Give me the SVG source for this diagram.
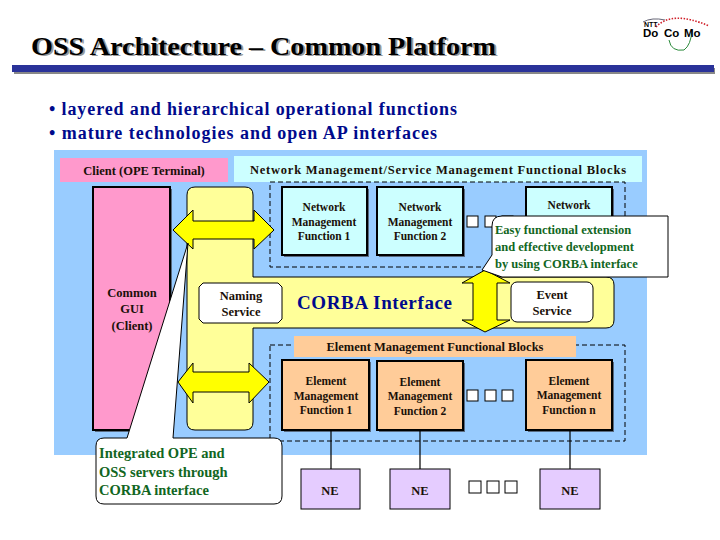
<svg xmlns="http://www.w3.org/2000/svg" width="720" height="540" viewBox="0 0 720 540">
<defs>
<style>
text{font-family:"Liberation Serif","Times New Roman",serif;font-weight:bold}
.m{text-anchor:middle}
.s{font-size:11.5px;fill:#1a1008}
.h{font-size:12.5px;fill:#1a1008}
.g{font-size:14.5px;fill:#116622}
.bx{stroke:#000;stroke-width:2}
.shad{fill:#444a55;opacity:.75}
.thin{fill:none;stroke:#000;stroke-width:1.2}
.dash{fill:none;stroke:#000;stroke-width:1;stroke-dasharray:5 3}
.sq{fill:#fff;stroke:#000;stroke-width:1}
.arrow{fill:#ffff00;stroke:#000;stroke-width:1}
.call{fill:#fff;stroke:#000;stroke-width:1}
</style>
</defs>
<rect width="720" height="540" fill="#fff"/>
<g id="header">
<text x="33" y="56" font-size="25.5" fill="#999" textLength="465" lengthAdjust="spacingAndGlyphs">OSS Architecture – Common Platform</text>
<text x="31" y="55" font-size="25.5" fill="#000" textLength="465" lengthAdjust="spacingAndGlyphs">OSS Architecture – Common Platform</text>
<rect x="14" y="68" width="701" height="6" fill="#888"/>
<rect x="12" y="65" width="702" height="7" fill="#2a3299"/>
<text x="49" y="115" font-size="18" fill="#000a8c" textLength="408" lengthAdjust="spacing">• layered and hierarchical operational functions</text>
<text x="49" y="139" font-size="18" fill="#000a8c" textLength="388" lengthAdjust="spacing">• mature technologies and open AP interfaces</text>
</g>
<g id="logo">
<path d="M643 22Q652 17 665 20" fill="none" stroke="#667" stroke-width="1"/>
<path d="M656 27Q672 10 709 26" fill="none" stroke="#d0202a" stroke-width="1.6" stroke-dasharray="1.5 1.5"/>
<path d="M669 40Q671 52 684 50Q691 45 692 30" fill="none" stroke="#2a8a3a" stroke-width="1"/>
<text x="644" y="27" font-size="7" style="font-family:'Liberation Sans',sans-serif">NTT</text>
<text x="643" y="37" font-size="11.5" style="font-family:'Liberation Sans',sans-serif">Do</text>
<text x="664" y="37" font-size="11.5" style="font-family:'Liberation Sans',sans-serif">Co</text>
<text x="684" y="37" font-size="11.5" style="font-family:'Liberation Sans',sans-serif">Mo</text>
</g>
<rect id="panel" x="54" y="150" width="593" height="305" fill="#99ccff"/>
<g id="client-label"><rect x="60" y="158" width="168" height="24" fill="#ff99cc"/><text class="h m" x="144" y="175">Client (OPE Terminal)</text></g>
<g id="nm-label"><rect x="234" y="156" width="408" height="26" fill="#ccffff"/><text class="h m" x="438" y="174" textLength="376">Network Management/Service Management Functional Blocks</text></g>
<rect id="nm-zone" class="dash" x="270" y="182" width="355" height="85"/>
<rect id="em-zone" class="dash" x="270" y="345" width="355" height="96"/>
<g id="corba">
<path d="M195 187H245Q253 187 253 195V277H606Q614 277 614 285V320Q614 328 606 328H253V422Q253 430 245 430H195Q187 430 187 422V195Q187 187 195 187Z" fill="#ffff99" stroke="#000" stroke-width="1"/>
<text x="297" y="309" font-size="19" fill="#000a8c" textLength="155">CORBA Interface</text>
</g>
<g id="gui"><rect class="shad" x="95" y="189" width="77" height="243"/><rect class="bx" x="93" y="187" width="77" height="243" fill="#ff99cc"/><text class="h m" x="132" y="297">Common</text><text class="h m" x="132" y="313">GUI</text><text class="h m" x="132" y="330">(Client)</text></g>
<g id="naming"><path d="M203 283H278L282 287V319L278 323H203L199 319V287Z" fill="#fff" stroke="#000"/><text class="h m" x="241" y="300">Naming</text><text class="h m" x="241" y="316">Service</text></g>
<g id="event"><rect x="511" y="282" width="82" height="40" rx="6" fill="#fff" stroke="#000"/><text class="h m" x="552" y="299">Event</text><text class="h m" x="552" y="315">Service</text></g>
<g id="nm1"><rect class="shad" x="284" y="189" width="85" height="68"/><rect class="bx" x="282" y="187" width="85" height="68" fill="#ccffff"/><text class="s m" x="324" y="211">Network</text><text class="s m" x="324" y="226">Management</text><text class="s m" x="324" y="240">Function  1</text></g>
<g id="nm2"><rect class="shad" x="379" y="189" width="86" height="68"/><rect class="bx" x="377" y="187" width="86" height="68" fill="#ccffff"/><text class="s m" x="420" y="211">Network</text><text class="s m" x="420" y="226">Management</text><text class="s m" x="420" y="240">Function  2</text></g>
<g id="nmn"><rect class="shad" x="528" y="189" width="86" height="68"/><rect class="bx" x="526" y="187" width="86" height="68" fill="#ccffff"/><text class="s m" x="569" y="209" font-size="12">Network</text></g>
<g id="nm-dots"><rect class="sq" x="467" y="216" width="11" height="11"/><rect class="sq" x="485" y="216" width="11" height="11"/><rect class="sq" x="502" y="216" width="11" height="11"/></g>
<g id="em-label"><rect x="294" y="336" width="282" height="21" fill="#ffcc99"/><text class="h m" x="435" y="351">Element Management Functional Blocks</text></g>
<g id="em1"><rect class="shad" x="284" y="362" width="87" height="70"/><rect class="bx" x="282" y="360" width="87" height="70" fill="#ffcc99"/><text class="s m" x="326" y="385">Element</text><text class="s m" x="326" y="400">Management</text><text class="s m" x="326" y="414">Function  1</text></g>
<g id="em2"><rect class="shad" x="379" y="363" width="86" height="69"/><rect class="bx" x="377" y="361" width="86" height="69" fill="#ffcc99"/><text class="s m" x="420" y="386">Element</text><text class="s m" x="420" y="400">Management</text><text class="s m" x="420" y="415">Function  2</text></g>
<g id="emn"><rect class="shad" x="528" y="362" width="86" height="70"/><rect class="bx" x="526" y="360" width="86" height="70" fill="#ffcc99"/><text class="s m" x="569" y="385">Element</text><text class="s m" x="569" y="399">Management</text><text class="s m" x="569" y="414">Function  n</text></g>
<g id="em-dots"><rect class="sq" x="467" y="390" width="11" height="11"/><rect class="sq" x="485" y="390" width="11" height="11"/><rect class="sq" x="502" y="390" width="11" height="11"/></g>
<g id="connectors">
<path class="thin" d="M331 430V469M420 430V469M570 430V469"/>
<path class="arrow" d="M173 230L193 210V221H254V210L274 230L254 249V239H193V249Z"/>
<path class="arrow" d="M178 382L193 363V372H249V363L269 382L249 403V392H193V403Z"/>
<path class="arrow" d="M485 270L510 283H497V320H510L485 332L462 320H473V283H462Z"/>
</g>
<g id="ne1"><rect x="301" y="469" width="59" height="40" fill="#e5ccff" stroke="#000"/><text class="h m" x="330" y="495">NE</text></g>
<g id="ne2"><rect x="390" y="469" width="60" height="40" fill="#e5ccff" stroke="#000"/><text class="h m" x="420" y="495">NE</text></g>
<g id="nen"><rect x="540" y="469" width="60" height="40" fill="#e5ccff" stroke="#000"/><text class="h m" x="570" y="495">NE</text></g>
<g id="ne-dots"><rect class="sq" x="469" y="481" width="12" height="12"/><rect class="sq" x="487" y="481" width="12" height="12"/><rect class="sq" x="505" y="481" width="12" height="12"/></g>
<g id="callout-corba"><path class="call" d="M104 438H127L188 243L173 438H274Q282 438 282 446V496Q282 504 274 504H104Q96 504 96 496V446Q96 438 104 438Z"/><text class="g" x="99" y="458">Integrated OPE and</text><text class="g" x="99" y="477">OSS servers through</text><text class="g" x="99" y="495">CORBA interface</text></g>
<g id="callout-ext"><path class="call" d="M482 270L492 255V226Q492 216 502 216H668V277H502Z"/><text class="g" x="495" y="234" font-size="12.5" style="font-size:12.5px">Easy functional extension</text><text class="g" x="495" y="251" style="font-size:12.5px">and effective development</text><text class="g" x="495" y="268" style="font-size:12.5px">by using CORBA interface</text></g>
</svg>
